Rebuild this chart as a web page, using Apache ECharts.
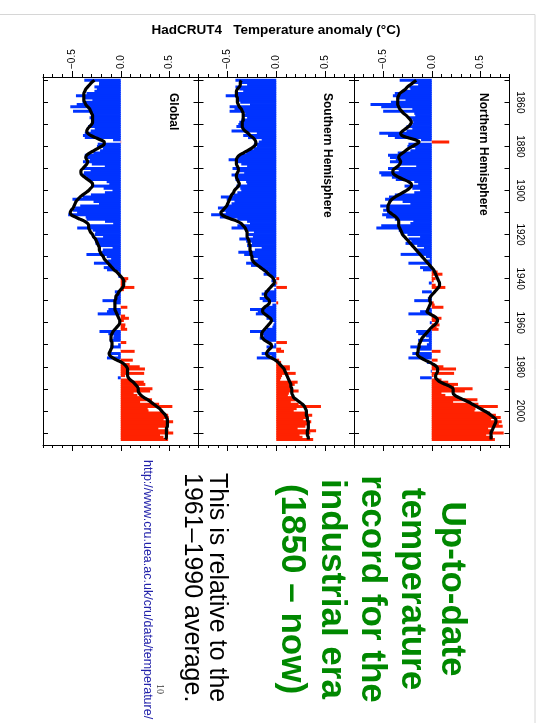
<!DOCTYPE html>
<html><head><meta charset="utf-8">
<script src="https://cdn.jsdelivr.net/npm/echarts@6/dist/echarts.min.js"></script>
<style>html,body{margin:0;padding:0;background:#fff}#c{width:539px;height:723px}</style>
</head><body><div id="c"></div>
<script>
// ---------- DATA ----------
const startYear = 1850;            // first data year (annual values 1850..2013)
const axisFirstYear = 1849;        // year-axis extent (categories)
const axisLastYear = 2015;
const yearLabels = ['1860','1880','1900','1920','1940','1960','1980','2000'];
const valueTickValues = [-0.5, 0, 0.5];
const valueTickLabels = ['\u22120.5', '0.0', '0.5'];
const panelTitles = ['Global', 'Southern Hemisphere', 'Northern Hemisphere'];

const globalAnnual = [
-0.375,-0.223,-0.224,-0.271,-0.246,-0.271,-0.352,-0.461,-0.388,-0.292,
-0.394,-0.453,-0.519,-0.312,-0.491,-0.296,-0.298,-0.321,-0.282,-0.285,
-0.298,-0.336,-0.268,-0.309,-0.370,-0.389,-0.370,-0.079,0.004,-0.237,
-0.245,-0.183,-0.213,-0.282,-0.370,-0.352,-0.318,-0.389,-0.298,-0.164,
-0.386,-0.310,-0.379,-0.390,-0.353,-0.338,-0.145,-0.118,-0.283,-0.176,
-0.085,-0.163,-0.307,-0.392,-0.497,-0.280,-0.224,-0.417,-0.470,-0.493,
-0.449,-0.541,-0.361,-0.352,-0.162,-0.078,-0.316,-0.448,-0.289,-0.262,
-0.267,-0.182,-0.274,-0.263,-0.260,-0.226,-0.084,-0.184,-0.195,-0.353,
-0.145,-0.099,-0.136,-0.276,-0.132,-0.175,-0.141,-0.017,-0.014,-0.024,
0.077,0.058,0.019,0.032,0.140,0.032,-0.061,-0.051,-0.053,-0.065,
-0.188,-0.072,0.001,0.068,-0.127,-0.142,-0.237,0.045,0.084,0.032,
-0.019,0.048,0.043,0.066,-0.219,-0.128,-0.073,-0.077,-0.113,0.057,
-0.027,-0.108,-0.002,0.143,-0.114,-0.028,-0.142,0.124,0.011,0.092,
0.195,0.249,0.075,0.241,0.045,-0.030,0.089,0.237,0.253,0.165,
0.326,0.302,0.133,0.171,0.223,0.322,0.199,0.395,0.531,0.277,
0.286,0.435,0.488,0.494,0.441,0.539,0.497,0.483,0.387,0.492,
0.540,0.404,0.440,0.487];
const globalSmooth = [
-0.27,-0.30,-0.32,-0.34,-0.36,-0.37,-0.38,-0.38,-0.38,-0.38,
-0.37,-0.36,-0.34,-0.32,-0.31,-0.30,-0.29,-0.29,-0.29,-0.29,
-0.30,-0.32,-0.34,-0.35,-0.34,-0.31,-0.26,-0.21,-0.17,-0.17,
-0.20,-0.24,-0.28,-0.32,-0.35,-0.36,-0.35,-0.34,-0.35,-0.37,
-0.39,-0.41,-0.41,-0.40,-0.37,-0.34,-0.31,-0.29,-0.29,-0.31,
-0.33,-0.36,-0.39,-0.42,-0.44,-0.46,-0.47,-0.48,-0.49,-0.51,
-0.52,-0.51,-0.47,-0.42,-0.37,-0.34,-0.33,-0.33,-0.32,-0.31,
-0.29,-0.28,-0.26,-0.25,-0.24,-0.23,-0.22,-0.22,-0.21,-0.20,
-0.18,-0.17,-0.15,-0.13,-0.11,-0.09,-0.07,-0.04,-0.02,0.00,
0.02,0.03,0.03,0.03,0.02,0.00,-0.02,-0.03,-0.05,-0.05,
-0.06,-0.06,-0.06,-0.06,-0.06,-0.05,-0.04,-0.03,-0.02,-0.01,
-0.01,-0.02,-0.04,-0.06,-0.08,-0.09,-0.10,-0.10,-0.10,-0.09,
-0.09,-0.09,-0.10,-0.11,-0.12,-0.11,-0.08,-0.04,0.01,0.04,
0.06,0.07,0.07,0.07,0.07,0.08,0.10,0.13,0.15,0.17,
0.18,0.18,0.19,0.21,0.24,0.28,0.31,0.34,0.37,0.40,
0.42,0.44,0.46,0.47,0.48,0.48,0.48,0.48,0.47,0.47,
0.47,0.47,0.47,0.46];

const nhAnnual = [
-0.33,-0.20,-0.14,-0.23,-0.22,-0.30,-0.38,-0.40,-0.36,-0.27,
-0.42,-0.63,-0.52,-0.20,-0.50,-0.18,-0.17,-0.24,-0.20,-0.19,
-0.20,-0.26,-0.20,-0.26,-0.54,-0.45,-0.38,-0.11,0.18,-0.24,
-0.25,-0.17,-0.22,-0.35,-0.45,-0.43,-0.37,-0.43,-0.33,-0.16,
-0.45,-0.34,-0.54,-0.52,-0.41,-0.37,-0.18,-0.14,-0.28,-0.20,
-0.12,-0.18,-0.38,-0.44,-0.48,-0.30,-0.22,-0.53,-0.47,-0.50,
-0.46,-0.51,-0.47,-0.38,-0.19,-0.22,-0.52,-0.57,-0.34,-0.30,
-0.25,-0.12,-0.24,-0.21,-0.27,-0.15,-0.08,-0.16,-0.13,-0.32,
-0.06,-0.02,-0.05,-0.24,-0.03,-0.12,-0.09,0.06,0.11,0.01,
0.04,0.02,-0.03,0.04,0.14,0.00,-0.10,-0.01,-0.02,-0.04,
-0.18,0.02,0.03,0.12,-0.05,-0.12,-0.24,0.03,0.10,0.07,
-0.02,0.08,0.05,0.07,-0.16,-0.14,-0.06,-0.03,-0.14,-0.03,
-0.05,-0.22,-0.13,0.09,-0.20,-0.14,-0.24,0.06,-0.05,0.03,
0.12,0.25,-0.01,0.23,0.02,-0.12,0.10,0.17,0.27,0.23,
0.42,0.34,0.10,0.14,0.28,0.47,0.22,0.48,0.68,0.45,
0.44,0.60,0.66,0.71,0.61,0.72,0.69,0.73,0.58,0.61,
0.74,0.56,0.63,0.65];
const nhSmooth = [
-0.16,-0.19,-0.22,-0.25,-0.27,-0.30,-0.33,-0.34,-0.35,-0.35,
-0.35,-0.35,-0.34,-0.33,-0.31,-0.29,-0.26,-0.24,-0.22,-0.21,
-0.22,-0.24,-0.27,-0.30,-0.32,-0.31,-0.25,-0.17,-0.13,-0.16,
-0.20,-0.24,-0.27,-0.30,-0.33,-0.34,-0.33,-0.32,-0.33,-0.35,
-0.38,-0.40,-0.40,-0.38,-0.34,-0.29,-0.24,-0.21,-0.21,-0.23,
-0.26,-0.30,-0.34,-0.38,-0.41,-0.43,-0.44,-0.45,-0.45,-0.45,
-0.43,-0.40,-0.37,-0.35,-0.34,-0.34,-0.34,-0.33,-0.32,-0.31,
-0.30,-0.28,-0.26,-0.24,-0.22,-0.20,-0.18,-0.16,-0.14,-0.12,
-0.10,-0.08,-0.06,-0.04,-0.02,0.00,0.02,0.03,0.04,0.05,
0.06,0.07,0.08,0.08,0.07,0.05,0.03,0.01,-0.01,-0.02,
-0.02,-0.01,-0.02,-0.03,-0.04,-0.05,-0.02,0.02,0.05,0.06,
0.05,0.03,0.00,-0.02,-0.04,-0.06,-0.08,-0.10,-0.11,-0.12,
-0.13,-0.13,-0.14,-0.14,-0.15,-0.14,-0.11,-0.07,-0.02,0.02,
0.05,0.06,0.06,0.05,0.04,0.04,0.06,0.09,0.14,0.19,
0.22,0.22,0.22,0.24,0.28,0.33,0.38,0.42,0.46,0.50,
0.54,0.58,0.61,0.64,0.66,0.66,0.65,0.64,0.63,0.62,
0.61,0.61,0.61,0.61];

const shAnnual = [
-0.42,-0.36,-0.30,-0.42,-0.38,-0.34,-0.42,-0.52,-0.41,-0.41,
-0.37,-0.27,-0.48,-0.43,-0.48,-0.32,-0.33,-0.30,-0.36,-0.38,
-0.39,-0.41,-0.33,-0.46,-0.20,-0.34,-0.29,-0.15,-0.18,-0.23,
-0.20,-0.23,-0.29,-0.31,-0.38,-0.40,-0.49,-0.42,-0.36,-0.30,
-0.45,-0.38,-0.33,-0.46,-0.40,-0.42,-0.31,-0.30,-0.41,-0.37,
-0.36,-0.40,-0.44,-0.57,-0.51,-0.43,-0.46,-0.50,-0.60,-0.55,
-0.52,-0.67,-0.58,-0.40,-0.30,-0.27,-0.40,-0.46,-0.30,-0.23,
-0.29,-0.24,-0.38,-0.31,-0.25,-0.30,-0.15,-0.22,-0.39,-0.33,
-0.24,-0.19,-0.25,-0.31,-0.26,-0.17,-0.14,-0.08,-0.13,-0.06,
0.03,-0.05,0.01,-0.03,0.11,-0.02,-0.12,-0.15,-0.12,-0.17,
-0.14,0.02,-0.04,-0.10,-0.27,-0.19,-0.21,-0.09,-0.10,-0.05,
-0.02,-0.03,-0.04,-0.10,-0.27,-0.16,-0.13,-0.17,-0.12,0.11,
-0.02,-0.10,0.05,0.08,-0.15,-0.05,-0.20,0.03,0.05,0.03,
0.14,0.14,0.08,0.20,0.06,0.05,0.04,0.22,0.19,0.14,
0.17,0.23,0.13,0.12,0.17,0.20,0.15,0.23,0.46,0.21,
0.18,0.30,0.37,0.33,0.28,0.36,0.33,0.30,0.22,0.41,
0.35,0.24,0.27,0.38];
const shSmooth = [
-0.36,-0.37,-0.37,-0.38,-0.40,-0.41,-0.41,-0.41,-0.40,-0.40,
-0.40,-0.39,-0.38,-0.36,-0.35,-0.34,-0.34,-0.34,-0.34,-0.35,
-0.35,-0.35,-0.34,-0.32,-0.29,-0.27,-0.24,-0.22,-0.21,-0.21,
-0.23,-0.26,-0.30,-0.34,-0.38,-0.40,-0.41,-0.41,-0.41,-0.40,
-0.39,-0.39,-0.40,-0.41,-0.41,-0.40,-0.39,-0.38,-0.39,-0.41,
-0.43,-0.44,-0.46,-0.47,-0.48,-0.49,-0.50,-0.51,-0.53,-0.55,
-0.57,-0.56,-0.52,-0.46,-0.40,-0.36,-0.34,-0.32,-0.31,-0.30,
-0.30,-0.30,-0.29,-0.28,-0.28,-0.27,-0.27,-0.27,-0.26,-0.26,
-0.25,-0.25,-0.24,-0.22,-0.19,-0.16,-0.13,-0.10,-0.08,-0.05,
-0.03,-0.02,-0.02,-0.04,-0.06,-0.08,-0.10,-0.11,-0.11,-0.09,
-0.07,-0.07,-0.09,-0.12,-0.14,-0.14,-0.12,-0.09,-0.06,-0.05,
-0.06,-0.08,-0.10,-0.12,-0.14,-0.15,-0.15,-0.14,-0.12,-0.08,
-0.05,-0.05,-0.07,-0.09,-0.10,-0.09,-0.05,-0.01,0.02,0.04,
0.06,0.08,0.09,0.10,0.11,0.12,0.13,0.14,0.15,0.15,
0.16,0.16,0.16,0.17,0.18,0.21,0.24,0.27,0.29,0.30,
0.31,0.31,0.31,0.32,0.32,0.33,0.33,0.33,0.33,0.32,
0.32,0.32,0.33,0.33];

// ---------- BUILD ----------
const FONT = '"Liberation Sans", Arial, Helvetica, sans-serif';
const RED = '#ff2200', BLUE = '#0033ff';
const cats = [];
for (let y = axisFirstYear; y <= axisLastYear; y++) cats.push(String(y));

const panels = [
  {annual: globalAnnual, smooth: globalSmooth},
  {annual: shAnnual, smooth: shSmooth},
  {annual: nhAnnual, smooth: nhSmooth}
];
const gridLefts = [43, 198.5, 354];
const gridW = 155.5, gridTop = 77, gridH = 368;

const grids = [], xAxes = [], yAxes = [], series = [];

panels.forEach((p, i) => {
  grids.push({left: gridLefts[i], top: gridTop, width: gridW, height: gridH, containLabel: false, show: false});
  const baseX = {
    gridIndex: i, type: 'value', min: -0.8, max: 0.8, interval: 0.1,
    splitLine: {show: false},
    axisLine: {show: true, onZero: false, lineStyle: {color: '#000', width: 1}},
    axisTick: {show: true, length: 3, lineStyle: {color: '#000', width: 1}}
  };
  xAxes.push(Object.assign({}, baseX, {
    position: 'top',
    axisLabel: {
      show: true, rotate: -90, margin: 8, fontSize: 10, color: '#000', fontFamily: FONT,
      formatter: v => { const k = valueTickValues.findIndex(t => Math.abs(t - v) < 1e-6); return k >= 0 ? valueTickLabels[k] : ''; }
    }
  }));
  xAxes.push(Object.assign({}, baseX, {position: 'bottom', axisLabel: {show: false}}));
  xAxes.push(Object.assign({}, baseX, {position: 'top', axisLine: {show: false},
    axisTick: {show: true, length: 6, customValues: valueTickValues, lineStyle: {color: '#000', width: 1}},
    axisLabel: {show: false}}));
  xAxes.push(Object.assign({}, baseX, {position: 'bottom', axisLine: {show: false},
    axisTick: {show: true, length: 6, customValues: valueTickValues, lineStyle: {color: '#000', width: 1}},
    axisLabel: {show: false}}));

  const baseY = {
    gridIndex: i, type: 'category', data: cats, inverse: true, boundaryGap: true,
    splitLine: {show: false},
    axisLine: {show: true, onZero: false, lineStyle: {color: '#000', width: 1}},
    axisTick: {show: true, inside: true, length: 5, alignWithLabel: true,
      interval: (idx, val) => (+val) % 10 === 0, lineStyle: {color: '#000', width: 1}}
  };
  yAxes.push(Object.assign({}, baseY, {position: 'left', axisLabel: {show: false}}));
  yAxes.push(Object.assign({}, baseY, {position: 'right',
    axisLabel: i === 2 ? {show: true, rotate: -90, margin: 5, fontSize: 10, color: '#000', fontFamily: FONT,
      interval: (idx, val) => yearLabels.indexOf(val) >= 0} : {show: false}}));

  series.push({
    type: 'bar', xAxisIndex: 4 * i, yAxisIndex: 2 * i,
    barWidth: 3, silent: true, animation: false, large: false,
    data: p.annual.map((v, k) => ({value: [v, String(startYear + k)], itemStyle: {color: v >= 0 ? RED : BLUE}}))
  });
  series.push({
    type: 'line', xAxisIndex: 4 * i, yAxisIndex: 2 * i, showSymbol: false, smooth: 0.3,
    silent: true, animation: false, z: 5,
    lineStyle: {color: '#000', width: 3.2},
    data: p.smooth.map((v, k) => [v, String(startYear + k)])
  });
});

const titleRot = -Math.PI / 2;
const graphic = [
  {type: 'rect', shape: {x: -5, y: 14.5, width: 540, height: 720}, style: {fill: 'none', stroke: '#d6d6d6', lineWidth: 1}, z: -1},
  {type: 'text', x: 276, y: 30, style: {text: 'HadCRUT4   Temperature anomaly (\u00B0C)', font: 'bold 13.5px ' + FONT, fill: '#000', align: 'center', verticalAlign: 'middle'}},
  {type: 'text', x: 173, y: 93, rotation: titleRot, style: {text: panelTitles[0], font: 'bold 12px ' + FONT, fill: '#000', align: 'left', verticalAlign: 'middle'}},
  {type: 'text', x: 327, y: 93, rotation: titleRot, style: {text: panelTitles[1], font: 'bold 12px ' + FONT, fill: '#000', align: 'left', verticalAlign: 'middle'}},
  {type: 'text', x: 483, y: 93, rotation: titleRot, style: {text: panelTitles[2], font: 'bold 12px ' + FONT, fill: '#000', align: 'left', verticalAlign: 'middle'}},
  {type: 'text', x: 372, y: 589, rotation: titleRot, style: {text: 'Up-to-date\ntemperature\nrecord for the\nindustrial era\n(1850 \u2013 now)', font: 'bold 35px ' + FONT, lineHeight: 40, fill: '#008800', align: 'center', verticalAlign: 'middle'}},
  {type: 'text', x: 204.5, y: 473, rotation: titleRot, style: {text: 'This is relative to the\n1961\u20131990 average.', font: '25px ' + FONT, lineHeight: 25, fill: '#000', align: 'left', verticalAlign: 'middle'}},
  {type: 'text', x: 147, y: 460, rotation: titleRot, style: {text: 'http://www.cru.uea.ac.uk/cru/data/temperature/', font: '12.5px ' + FONT, fill: '#2222aa', align: 'left', verticalAlign: 'middle'}},
  {type: 'text', x: 160, y: 689, rotation: titleRot, style: {text: '10', font: '10px "Liberation Serif", "DejaVu Serif", serif', fill: '#333', align: 'center', verticalAlign: 'middle'}}
];

const chart = echarts.init(document.getElementById('c'), null, {renderer: 'canvas'});
chart.setOption({
  animation: false,
  backgroundColor: '#fff',
  grid: grids, xAxis: xAxes, yAxis: yAxes, series: series, graphic: graphic
});
</script></body></html>
